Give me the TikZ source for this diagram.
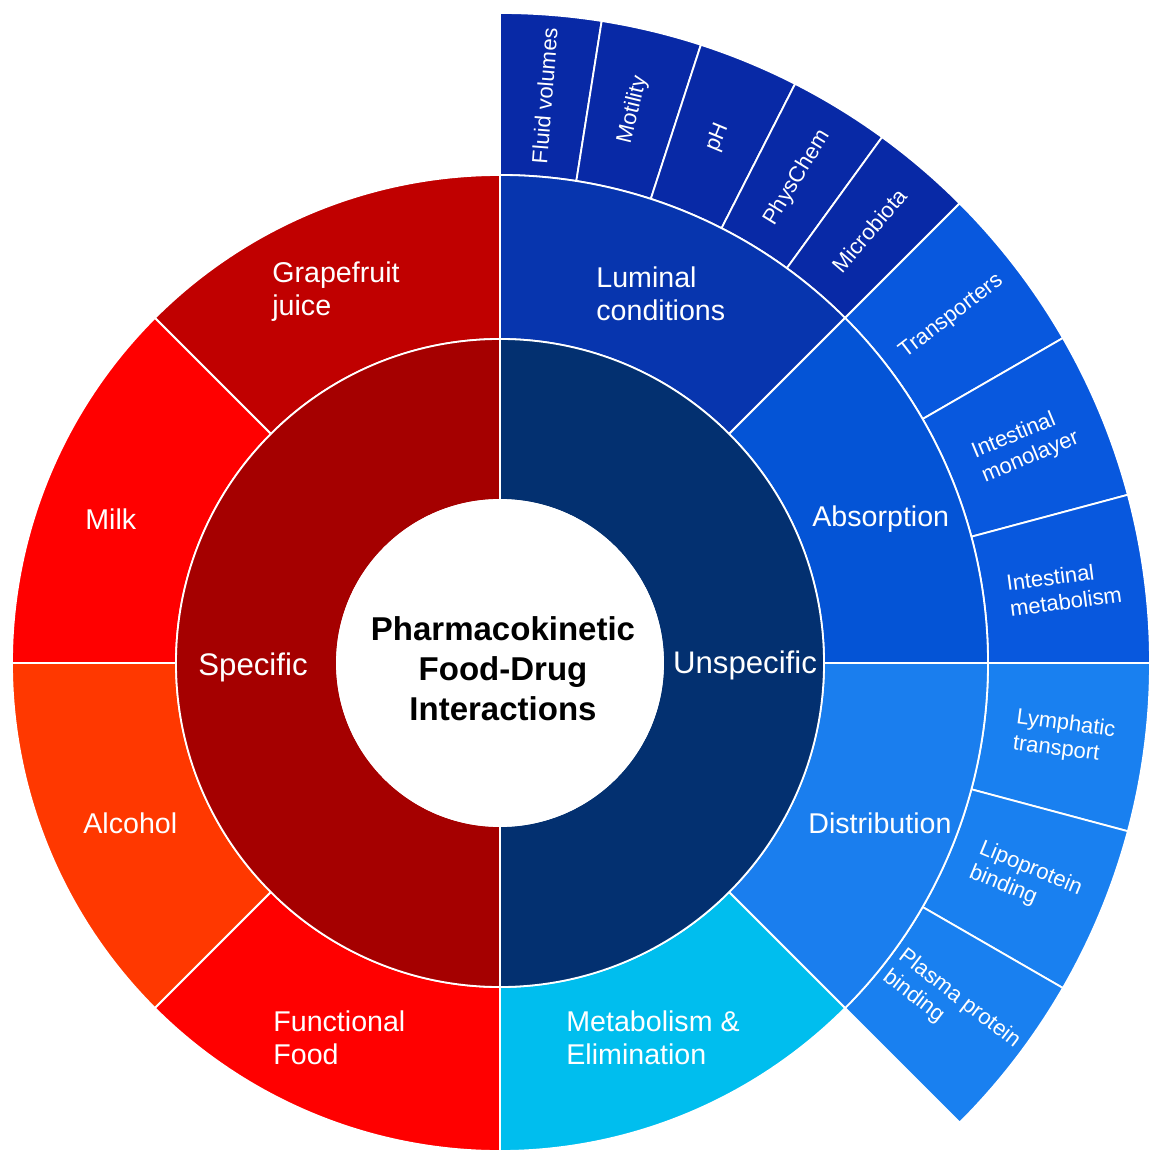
\documentclass[tikz,border=0pt]{standalone}
\usepackage{fontspec}
\setmainfont{Liberation Sans}
\definecolor{cSpec}{HTML}{A50000}
\definecolor{cGrape}{HTML}{C00000}
\definecolor{cMilk}{HTML}{FF0000}
\definecolor{cAlc}{HTML}{FF3800}
\definecolor{cFunc}{HTML}{FF0000}
\definecolor{cUns}{HTML}{033070}
\definecolor{cLum}{HTML}{0735AE}
\definecolor{cLumC}{HTML}{0829A6}
\definecolor{cAbs}{HTML}{0454D6}
\definecolor{cAbsC}{HTML}{0858DE}
\definecolor{cDis}{HTML}{1A7EEE}
\definecolor{cDisC}{HTML}{1980F0}
\definecolor{cMet}{HTML}{00BEEE}
\newcommand\mysector[5]{%
  \filldraw[fill=#1,sep] (#2:#4) arc[start angle=#2,end angle=#3,radius=#4]
    -- (#3:#5) arc[start angle=#3,end angle=#2,radius=#5] -- cycle;}
\begin{document}
\begin{tikzpicture}[x=0.5pt,y=0.5pt,
  sep/.style={draw=white,line width=0.9pt},
  lab/.style={text=white,font=\fontsize{14.3}{16.5}\selectfont,align=left,inner sep=0pt},
  labone/.style={text=white,font=\fontsize{15.6}{18}\selectfont,inner sep=0pt},
  small/.style={text=white,font=\fontsize{11}{13}\selectfont,align=left,inner sep=0pt}]
\useasboundingbox (-500,-488) rectangle (660,663);
% ring 3
\mysector{cLumC}{90}{81}{488}{650}
\mysector{cLumC}{81}{72}{488}{650}
\mysector{cLumC}{72}{63}{488}{650}
\mysector{cLumC}{63}{54}{488}{650}
\mysector{cLumC}{54}{45}{488}{650}
\mysector{cAbsC}{45}{30}{488}{650}
\mysector{cAbsC}{30}{15}{488}{650}
\mysector{cAbsC}{15}{0}{488}{650}
\mysector{cDisC}{0}{-15}{488}{650}
\mysector{cDisC}{-15}{-30}{488}{650}
\mysector{cDisC}{-30}{-45}{488}{650}
% ring 2
\mysector{cGrape}{90}{135}{324}{488}
\mysector{cMilk}{135}{180}{324}{488}
\mysector{cAlc}{180}{225}{324}{488}
\mysector{cFunc}{225}{270}{324}{488}
\mysector{cLum}{90}{45}{324}{488}
\mysector{cAbs}{45}{0}{324}{488}
\mysector{cDis}{0}{-45}{324}{488}
\mysector{cMet}{-45}{-90}{324}{488}
% ring 1
\mysector{cSpec}{90}{270}{163}{324}
\mysector{cUns}{90}{-90}{163}{324}
% centre
\filldraw[fill=white,sep] (0,0) circle[radius=163];
\node[font=\fontsize{16.5}{20}\selectfont\bfseries,align=center,inner sep=0pt] (centre) at (3,-6)
  {Pharmacokinetic\\Food-Drug\\Interactions};
% ring 1 labels
\node[labone] (spec) at (-247,-4) {Specific};
\node[labone] (unspec) at (245,-2) {Unspecific};
% ring 2 labels
\node[lab,anchor=west] (grape) at (-228,371) {Grapefruit\\juice};
\node[lab,anchor=west] (milk) at (-415,144) {Milk};
\node[lab,anchor=west] (alc) at (-417,-160) {Alcohol};
\node[lab,anchor=west] (func) at (-227,-375) {Functional\\Food};
\node[lab,anchor=west] (lum) at (96,369) {Luminal\\conditions};
\node[lab,anchor=west] (abs) at (312,144) {Absorption};
\node[lab,anchor=west] (dis) at (308,-160) {Distribution};
\node[lab,anchor=west] (met) at (66,-375) {Metabolism \&\\Elimination};
% ring 3 labels
\node[small,rotate=85.5] (fluid) at (85.5:569) {Fluid volumes};
\node[small,rotate=76.5] (mot) at (76.5:569) {Motility};
\node[small,rotate=67.5] (ph) at (67.5:569) {pH};
\node[small,rotate=58.5] (phys) at (58.5:569) {PhysChem};
\node[small,rotate=49.5] (micro) at (49.5:569) {Microbiota};
\node[small,rotate=37.5] (trans) at (37.5:569) {Transporters};
\node[small,rotate=22.5] (mono) at (22.5:569) {Intestinal\\monolayer};
\node[small,rotate=7.5] (imet) at (7.5:569) {Intestinal\\metabolism};
\node[small,rotate=-7.5] (lymph) at (-7.5:569) {Lymphatic\\transport};
\node[small,rotate=-22.5] (lipo) at (-22.5:569) {Lipoprotein\\binding};
\node[small,rotate=-37.5] (plasma) at (-37.5:569) {Plasma protein\\binding};
\end{tikzpicture}
\end{document}
